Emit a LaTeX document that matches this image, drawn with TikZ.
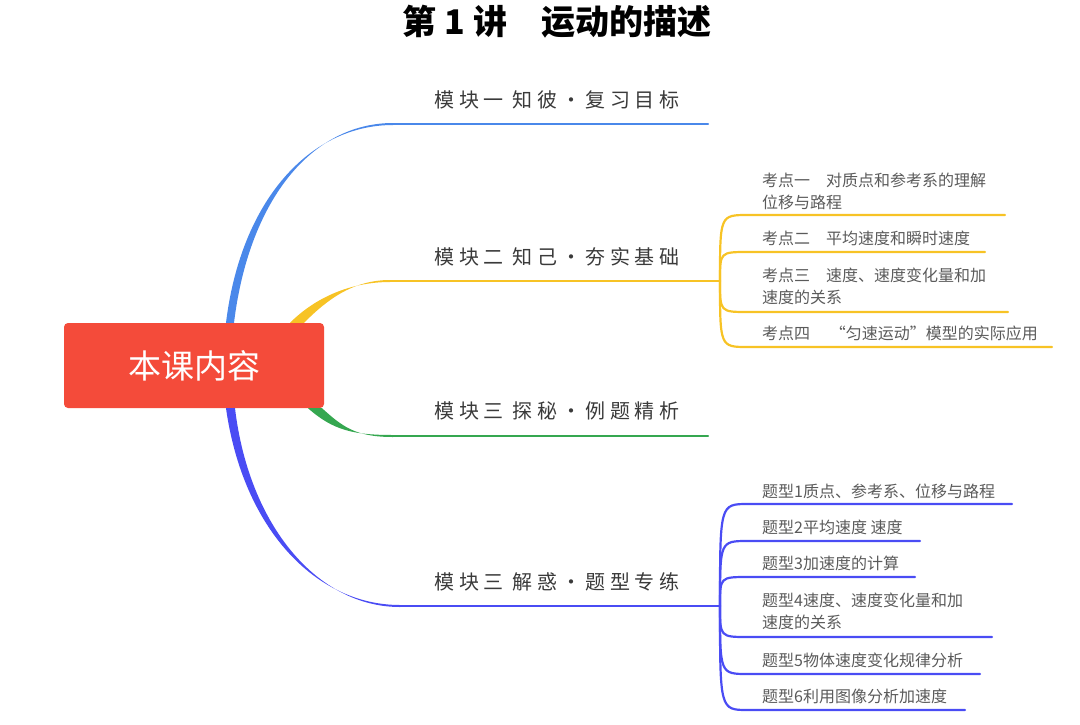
\documentclass[tikz,border=0pt]{standalone}
\usepackage{fontspec}
\setmainfont{Noto Sans CJK SC}
\usetikzlibrary{calc}
\definecolor{rootred}{HTML}{F44B3A}
\definecolor{skyblue}{HTML}{4A88EA}
\definecolor{gold}{HTML}{F7C325}
\definecolor{leaf}{HTML}{35A750}
\definecolor{indigo}{HTML}{4A4CF4}
\definecolor{ink}{HTML}{3A3A3A}
\definecolor{subgrey}{HTML}{5A5A5A}

\begin{document}
\begin{tikzpicture}[x=1pt, y=-1pt, every node/.style={inner sep=0pt},
  root/.style={fill=rootred, rounded corners=4pt, minimum width=260pt, minimum height=85pt, text=white, font=\fontsize{33}{36}\selectfont},
  modtxt/.style={text=ink, font={\fontsize{20}{24}\selectfont\addfontfeature{LetterSpace=22}}},
  subtxt/.style={anchor=west, align=left, text=subgrey, font=\fontsize{16}{22}\selectfont},
  twig/.style={line width=2.2pt, line cap=round}]
\useasboundingbox (0,0) rectangle (1080,724);

\node (title) at (557,22) {\fontsize{34}{38}\selectfont\bfseries 第 1 讲　运动的描述};
\node[root] (root) at (194,365.5) {本课内容};

% modules
\node[modtxt] (m1) at (557,100) {模块一 知彼·复习目标};
\node[modtxt] (m2) at (557,257) {模块二 知己·夯实基础};
\node[modtxt] (m3) at (557,411) {模块三 探秘·例题精析};
\node[modtxt] (m4) at (557,582) {模块三 解惑·题型专练};

% branch ends
\coordinate (r1) at ([xshift=36pt]root.north);
\coordinate (r2) at ([xshift=104pt]root.north);
\coordinate (r3) at ([xshift=124pt]root.south);
\coordinate (r4) at ([xshift=36pt]root.south);
\coordinate (b1) at (393,124);
\coordinate (b2) at (390,281);
\coordinate (b3) at (393,436);
\coordinate (b4) at (400,606);
\coordinate (u1) at (708,124);
\coordinate (j2) at (720,281);
\coordinate (u3) at (708,436);
\coordinate (j4) at (720,606);

\fill[skyblue] ([xshift=-4pt]r1) .. controls +(15,-123) and +(-83,0) .. ([yshift=-1pt]b1) -- ([yshift=1pt]b1) .. controls +(-81,0) and +(15,-123) .. ([xshift=4pt]r1) -- cycle;
\fill[gold] ([xshift=-8pt]r2) .. controls +(25,-25) and +(-40,0) .. ([yshift=-1pt]b2) -- ([yshift=1pt]b2) .. controls +(-38,0) and +(22,-22) .. ([xshift=6pt]r2) -- cycle;
\fill[leaf] ([xshift=-10pt]r3) .. controls +(25,22) and +(-40,0) .. ([yshift=1pt]b3) -- ([yshift=-1pt]b3) .. controls +(-38,0) and +(20,18) .. ([xshift=4pt]r3) -- cycle;
\fill[indigo] ([xshift=-4pt]r4) .. controls +(17,120) and +(-85,0) .. ([yshift=1pt]b4) -- ([yshift=-1pt]b4) .. controls +(-82,0) and +(14,118) .. ([xshift=5pt]r4) -- cycle;
\draw[twig, skyblue] (b1) -- (u1);
\draw[twig, gold] (b2) -- (j2);
\draw[twig, leaf] (b3) -- (u3);
\draw[twig, indigo] (b4) -- (j4);

% 考点
\node[subtxt] (k1) at (762,191) {考点一　对质点和参考系的理解\\位移与路程};
\node[subtxt] (k2) at (762,238) {考点二　平均速度和瞬时速度};
\node[subtxt] (k3) at (762,286) {考点三　速度、速度变化量和加\\速度的关系};
\node[subtxt] (k4) at (762,333) {考点四　 “匀速运动”模型的实际应用};
\coordinate (ks1) at (748,215); \coordinate (ke1) at (1005,215);
\coordinate (ks2) at (748,252); \coordinate (ke2) at (985,252);
\coordinate (ks3) at (748,312); \coordinate (ke3) at (1008,312);
\coordinate (ks4) at (748,347); \coordinate (ke4) at (1052,347);
\foreach \i in {1,...,4}
  \draw[twig, gold] (j2) .. controls (j2 |- ks\i) .. (ks\i) -- (ke\i);

% 题型
\node[subtxt] (t1) at (762,491) {题型1质点、参考系、位移与路程};
\node[subtxt] (t2) at (762,527) {题型2平均速度 速度};
\node[subtxt] (t3) at (762,563) {题型3加速度的计算};
\node[subtxt] (t4) at (762,611) {题型4速度、速度变化量和加\\速度的关系};
\node[subtxt] (t5) at (762,660) {题型5物体速度变化规律分析};
\node[subtxt] (t6) at (762,696) {题型6利用图像分析加速度};
\coordinate (ts1) at (748,504); \coordinate (te1) at (1012,504);
\coordinate (ts2) at (748,541); \coordinate (te2) at (920,541);
\coordinate (ts3) at (748,577); \coordinate (te3) at (915,577);
\coordinate (ts4) at (748,637); \coordinate (te4) at (992,637);
\coordinate (ts5) at (748,674); \coordinate (te5) at (980,674);
\coordinate (ts6) at (748,710); \coordinate (te6) at (965,710);
\foreach \i in {1,...,6}
  \draw[twig, indigo] (j4) .. controls (j4 |- ts\i) .. (ts\i) -- (te\i);
\end{tikzpicture}
\end{document}
